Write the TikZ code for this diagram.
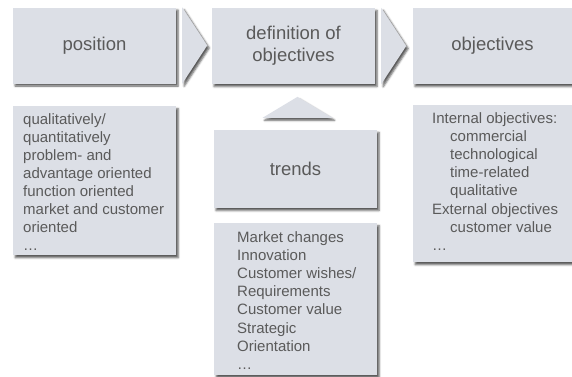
\documentclass[tikz,border=0pt]{standalone}
\usepackage{fontspec}
\setmainfont{Liberation Sans}
\usetikzlibrary{calc,positioning,shadows.blur}
\definecolor{panelgray}{HTML}{DCDFE6}
\definecolor{textgray}{HTML}{5A5A5A}

\begin{document}
\begin{tikzpicture}[x=1pt,y=-1pt,
    panel/.style={fill=panelgray,blur shadow={shadow xshift=2pt,shadow yshift=-2.5pt,shadow blur radius=2pt,shadow opacity=65}},
    title/.style={panel,minimum width=163pt,minimum height=76pt,inner sep=0pt,text=textgray,align=center,font=\fontsize{18.5}{22}\selectfont},
    listbox/.style={panel,anchor=north west,minimum width=163pt,inner sep=0pt},
    listtext/.style={anchor=north west,inner sep=0pt,text=textgray,align=left,font=\fontsize{15}{18.1}\selectfont}]
    \useasboundingbox (0,0) rectangle (572,376);
    % top row
    \node[title] (pos) at (94.5,45.5) {position};
    \node[title] (def) at (293.5,46) {definition of\\objectives};
    \node[title,minimum width=159pt] (obj) at (492.5,46) {objectives};
    \node[title,minimum height=78pt] (trd) at (295.5,169) {trends};
    % chevrons between the steps
    \foreach \a in {pos,def}
    {
        \fill[panel] ($(\a.north east)+(6,0)$)--($(\a.east)+(31,0)$)--($(\a.south east)+(6,0)$)--cycle;
    }
    \fill[panel] ($(trd.north)+(-33,-12)$)--($(trd.north)+(2,-33)$)--($(trd.north)+(37,-12)$)--cycle;
    % lists
    \node[listbox,minimum height=149pt] (posbox) at (13,106) {};
    \node[listtext] (poslist) at ($(posbox.north west)+(10,7)$)
        {qualitatively/\\quantitatively\\problem- and\\advantage oriented\\function oriented\\market and customer\\oriented\\…};
    \node[listbox,minimum height=152pt] (trdbox) at (214,223) {};
    \node[listtext] (trdlist) at ($(trdbox.north west)+(23,8.5)$)
        {Market changes\\Innovation\\Customer wishes/\\Requirements\\Customer value\\Strategic\\Orientation\\…};
    \node[listbox,minimum width=159pt,minimum height=157pt] (objbox) at (413,105) {};
    \node[listtext] (objlist) at ($(objbox.north west)+(19,7.5)$)
        {Internal objectives:\\\hspace*{18pt}commercial\\\hspace*{18pt}technological\\\hspace*{18pt}time-related\\\hspace*{18pt}qualitative\\External objectives\\\hspace*{18pt}customer value\\…};
\end{tikzpicture}
\end{document}
